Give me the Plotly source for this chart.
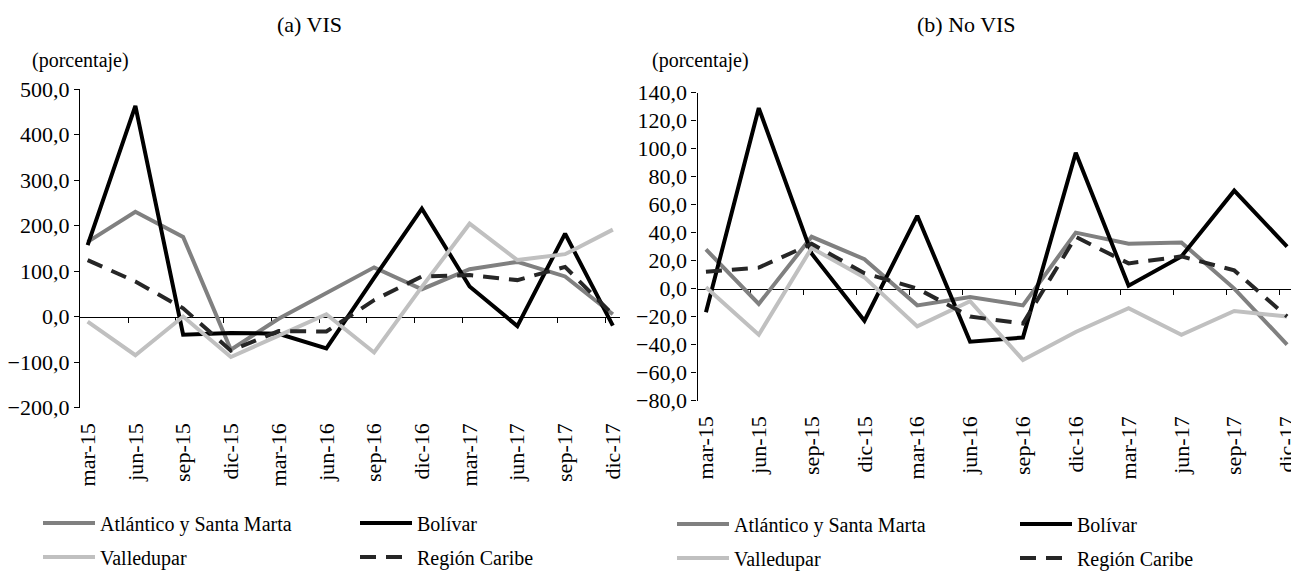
import plotly.graph_objects as go

# ---------------- data ----------------
categories = ["mar-15", "jun-15", "sep-15", "dic-15", "mar-16", "jun-16",
              "sep-16", "dic-16", "mar-17", "jun-17", "sep-17", "dic-17"]

series_names = ["Atlántico y Santa Marta", "Bolívar", "Valledupar", "Región Caribe"]

# (a) VIS
vis_atlantico = [164, 230, 175, -73, -5, 52, 108, 60, 104, 120, 88, 5]
vis_bolivar = [157, 463, -40, -36, -38, -70, 85, 237, 66, -21, 182, -20]
vis_valledupar = [-11, -85, 0, -89, -42, 5, -79, 65, 204, 124, 137, 191]
vis_caribe = [124, 77, 18, -75, -32, -33, 36, 88, 91, 80, 109, 4]

# (b) No VIS
novis_atlantico = [28, -11, 37, 21, -12, -6, -12, 40, 32, 33, 0, -40]
novis_bolivar = [-17, 129, 25, -23, 52, -38, -35, 97, 2, 23, 70, 30]
novis_valledupar = [1, -33, 29, 8, -27, -9, -51, -31, -14, -33, -16, -20]
novis_caribe = [12, 15, 32, 11, 0, -20, -25, 37, 18, 23, 13, -20]

vis_range = [-200, 500]
vis_dtick = 100
novis_range = [-80, 140]
novis_dtick = 20

# ---------------- styling ----------------
W, H = 1299, 575          # figure size (page body adds an 8px offset)
OFF = 8
FONT = "Liberation Serif, Times New Roman, serif"
styles = {
    "Atlántico y Santa Marta": dict(color="#808080", dash="solid"),
    "Bolívar": dict(color="#000000", dash="solid"),
    "Valledupar": dict(color="#c0c0c0", dash="solid"),
    "Región Caribe": dict(color="#262626", dash="16px,10px"),
}
LW = 4

xpos = list(range(len(categories)))
XR = [-0.16, 11.15]

def px_x(p):
    return (p - OFF) / W

def px_y(p):
    return 1 - (p - OFF) / H

left_x = [px_x(80), px_x(620)]
right_x = [px_x(697.5), px_x(1295)]
left_y = [px_y(407.5), px_y(89)]
right_y = [px_y(400.5), px_y(92.7)]

# legend slot for each (panel, series): (screen x of legend, screen y of row centre)
legend_slots = {
    0: [(38, 523), (355, 523), (38, 557), (355, 557)],
    1: [(672, 524), (1015, 524), (672, 558), (1015, 558)],
}

fig = go.Figure()

panels = [
    ("x", "y", [vis_atlantico, vis_bolivar, vis_valledupar, vis_caribe]),
    ("x2", "y2", [novis_atlantico, novis_bolivar, novis_valledupar, novis_caribe]),
]
legend_layout = {}
n = 0
for pi, (xa, ya, vals) in enumerate(panels):
    for si, (name, v) in enumerate(zip(series_names, vals)):
        n += 1
        lid = "legend" if n == 1 else f"legend{n}"
        st = styles[name]
        fig.add_trace(go.Scatter(
            x=xpos, y=v, name=name, mode="lines", xaxis=xa, yaxis=ya,
            line=dict(color=st["color"], width=LW, dash=st["dash"]),
            legend=lid, hoverinfo="skip",
        ))
        lx, ly = legend_slots[pi][si]
        legend_layout[lid] = dict(
            x=px_x(lx), y=px_y(ly), xanchor="left", yanchor="middle",
            orientation="h", font=dict(family=FONT, size=20, color="black"),
            bgcolor="rgba(0,0,0,0)", itemwidth=52, borderwidth=0,
        )

fig.add_trace(go.Scatter(x=[], y=[], xaxis="x3", yaxis="y", showlegend=False, hoverinfo="skip"))
fig.add_trace(go.Scatter(x=[], y=[], xaxis="x4", yaxis="y2", showlegend=False, hoverinfo="skip"))

def zero_pos(dom, rng):
    return dom[0] + (0 - rng[0]) / (rng[1] - rng[0]) * (dom[1] - dom[0])

tickfont = dict(family=FONT, size=22, color="black")

label_axis = dict(
    range=XR, tickmode="array", tickvals=xpos, ticktext=categories,
    tickangle=-90, ticks="outside", ticklen=6, tickcolor="rgba(0,0,0,0)",
    showline=False, showgrid=False, zeroline=False, tickfont=tickfont,
    automargin=False, fixedrange=True,
)
zero_axis = dict(
    range=XR, tickmode="array", tickvals=[k - 0.15 for k in range(1, len(categories))],
    ticks="outside", ticklen=5, tickcolor="black", tickwidth=1,
    showticklabels=False, showline=True, linecolor="black", linewidth=1.2,
    showgrid=False, zeroline=False, anchor="free", side="bottom",
    layer="below traces", automargin=False, fixedrange=True,
)
y_common = dict(
    showline=True, linecolor="black", linewidth=1.2, ticks="outside", ticklen=5,
    tickcolor="black", showgrid=False, zeroline=False, tickformat=".1f",
    tickfont=tickfont, automargin=False, fixedrange=True,
)

fig.update_layout(
    width=W, height=H, margin=dict(l=0, r=0, t=0, b=0),
    paper_bgcolor="white", plot_bgcolor="white", separators=",.",
    font=dict(family=FONT, color="black"),
    xaxis=dict(domain=left_x, anchor="y", **label_axis),
    yaxis=dict(domain=left_y, anchor="x", range=vis_range, dtick=vis_dtick, tick0=0, **y_common),
    xaxis2=dict(domain=right_x, anchor="y2", **label_axis),
    yaxis2=dict(domain=right_y, anchor="x2", range=novis_range, dtick=novis_dtick, tick0=0, **y_common),
    xaxis3=dict(overlaying="x", domain=left_x, position=zero_pos(left_y, vis_range), **zero_axis),
    xaxis4=dict(overlaying="x2", domain=right_x, position=zero_pos(right_y, novis_range), **zero_axis),
    showlegend=True,
    annotations=[
        dict(text="(a) VIS", x=px_x(309), y=px_y(24), xref="paper", yref="paper",
             showarrow=False, xanchor="center", yanchor="middle",
             font=dict(family=FONT, size=22, color="black")),
        dict(text="(b) No VIS", x=px_x(967), y=px_y(24), xref="paper", yref="paper",
             showarrow=False, xanchor="center", yanchor="middle",
             font=dict(family=FONT, size=22, color="black")),
        dict(text="(porcentaje)", x=px_x(30), y=px_y(61), xref="paper", yref="paper",
             showarrow=False, xanchor="left", yanchor="middle",
             font=dict(family=FONT, size=20, color="black")),
        dict(text="(porcentaje)", x=px_x(650), y=px_y(61), xref="paper", yref="paper",
             showarrow=False, xanchor="left", yanchor="middle",
             font=dict(family=FONT, size=20, color="black")),
    ],
    **legend_layout,
)

fig.write_html("out.html")
